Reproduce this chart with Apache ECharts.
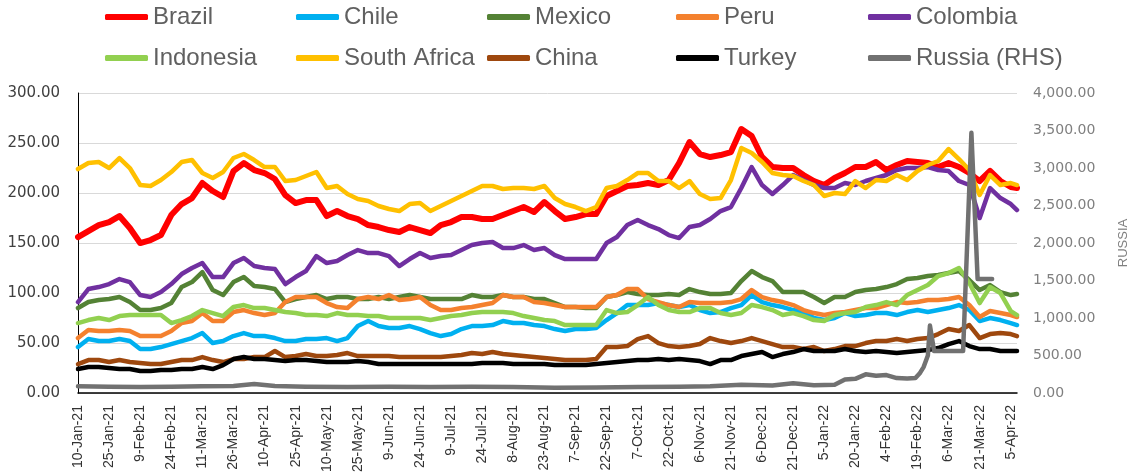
<!DOCTYPE html>
<html>
<head>
<meta charset="utf-8">
<script src="https://cdn.jsdelivr.net/npm/echarts/dist/echarts.min.js"></script>
<style>
  html, body { margin: 0; padding: 0; background: #ffffff; }
  #chart { width: 1138px; height: 475px; }
</style>
</head>
<body>
<div id="chart"></div>
<script>
// Day offsets counted from 10-Jan-21 at which the series are sampled
const days = [0,5,10,15,20,25,30,35,40,45,50,55,60,65,70,75,80,85,90,95,
  100,105,110,115,120,125,130,135,140,145,150,155,160,165,170,175,180,185,190,195,
  200,205,210,215,220,225,230,235,240,245,250,255,260,265,270,275,280,285,290,295,
  300,305,310,315,320,325,330,335,340,345,350,355,360,365,370,375,380,385,390,395,
  400,405,410,415,420,425,430,435,440,445,450,453];

// Date labels shown every 15 days along the bottom axis
const tickLabels = ['10-Jan-21','25-Jan-21','9-Feb-21','24-Feb-21','11-Mar-21','26-Mar-21',
  '10-Apr-21','25-Apr-21','10-May-21','25-May-21','9-Jun-21','24-Jun-21','9-Jul-21',
  '24-Jul-21','8-Aug-21','23-Aug-21','7-Sep-21','22-Sep-21','7-Oct-21','22-Oct-21',
  '6-Nov-21','21-Nov-21','6-Dec-21','21-Dec-21','5-Jan-22','20-Jan-22','4-Feb-22',
  '19-Feb-22','6-Mar-22','21-Mar-22','5-Apr-22'];

// Left-hand scale series
const brazil = [156,162,168,171,177,165,150,153,158,178, 189,195,210,202,196,222,230,223,220,214,
  198,190,193,193,177,182,177,174,168,166, 163,161,166,163,160,168,171,176,176,174,
  174,178,182,186,181,191,182,174,176,179, 179,197,202,207,208,210,208,213,230,251,
  239,236,238,241,264,257,236,226,225,225, 218,212,208,215,220,226,226,231,223,228,
  232,231,230,226,230,226,220,212,222,212, 206,205];
const chile = [46,54,52,52,54,52,44,44,46,49, 52,55,60,50,52,57,60,57,57,55,
  52,52,54,54,55,52,55,67,72,67, 65,65,67,64,60,57,59,64,67,67,
  68,72,70,70,68,67,64,62,64,64, 65,73,80,88,88,88,90,88,86,88,
  83,80,81,85,88,98,91,88,86,83, 81,75,73,75,80,77,78,80,80,78,
  81,83,81,83,85,88,83,72,75,73, 70,68];
const mexico = [85,91,93,94,96,91,83,83,85,90, 106,111,121,103,98,111,116,107,106,104,
  91,94,96,98,94,96,96,94,94,96, 94,96,98,96,94,94,94,94,98,96,
  96,98,96,96,94,94,90,86,86,85, 85,96,98,101,99,98,98,99,98,104,
  101,99,99,100,112,122,116,112,101,101, 101,96,90,96,96,101,103,104,106,109,
  114,115,117,118,120,122,113,103,108,101, 98,99];
const peru = [55,63,62,62,63,62,57,57,57,62, 70,72,80,72,72,81,83,80,78,80,
  91,96,96,96,90,86,85,94,96,94, 98,93,94,96,88,83,83,85,86,88,
  90,98,96,96,91,90,88,86,86,86, 86,96,98,104,104,94,91,88,86,91,
  90,90,90,91,94,103,96,93,91,88, 83,80,78,80,81,83,85,85,88,91,
  90,91,93,93,94,96,88,76,82,80, 78,76];
const colombia = [91,104,106,109,114,111,98,96,101,109, 119,125,130,116,116,130,135,127,125,124,
  109,116,122,137,130,132,138,143,140,140, 137,127,134,140,135,137,138,143,148,150,
  151,145,145,148,143,145,138,134,134,134, 134,150,156,168,173,168,164,158,155,166,
  168,174,182,186,205,226,208,199,208,218, 213,208,205,205,210,208,212,215,218,223,
  225,225,226,223,222,212,208,175,205,195, 189,183];
const indonesia = [70,73,75,73,77,78,78,78,78,70, 73,77,83,80,77,86,88,85,85,83,
  81,80,78,78,77,80,78,78,77,77, 75,75,75,75,73,75,77,78,80,81,
  81,81,80,77,75,73,72,68,68,68, 68,83,80,81,88,96,88,83,81,81,
  85,85,80,78,80,88,86,83,78,80, 77,73,72,78,80,81,86,88,91,88,
  98,103,108,117,120,125,110,90,106,100, 82,78];
const southAfrica = [224,230,231,225,235,225,208,207,213,221, 231,233,220,215,221,235,239,233,226,226,
  212,213,217,221,205,207,199,194,192,187, 184,182,189,190,182,187,192,197,202,207,
  207,204,205,205,204,207,195,189,186,182, 186,205,207,213,220,220,212,212,205,212,
  199,194,195,213,245,240,231,220,218,217, 212,208,197,200,199,212,205,213,212,218,
  213,222,228,232,244,234,223,198,218,208, 210,208];
const china = [29,33,33,31,33,31,30,29,29,31, 33,33,36,33,31,34,34,36,36,42,
  36,37,39,37,37,38,40,37,37,37, 37,36,36,36,36,36,37,38,40,39,
  41,39,38,37,36,35,34,33,33,33, 34,46,46,47,54,57,50,47,46,47,
  49,55,52,50,52,55,52,49,46,46, 44,46,42,44,47,47,50,52,52,54,
  52,54,55,59,64,62,68,55,59,60, 59,57];
const turkey = [24,26,26,25,24,24,22,22,23,23, 24,24,26,24,28,34,36,34,34,33,
  32,33,33,32,31,31,31,32,31,29, 29,29,29,29,29,29,29,29,29,30,
  30,30,29,29,29,29,28,28,28,28, 29,30,31,32,33,33,34,33,34,33,
  32,29,33,33,37,39,41,36,39,41, 44,42,42,42,44,42,41,42,41,40,
  41,42,43,45,49,52,47,44,44,42, 42,42];

// Right-hand scale: Russia, sampled more finely around its jumps
const russiaDays = [0,15,30,45,60,75,85,95,110,130,150,170,190,210,230,250,270,290,305,320,
  335,345,355,365,370,375,380,385,390,395,400,404,406,408,410,411,413,420,427,431,434,441];
const russia = [90,85,80,85,90,95,120,95,85,80,85,80,85,80,70,75,80,85,90,110,
  100,130,105,110,180,190,250,230,240,200,195,200,260,350,500,900,560,560,560,3470,1520,1520];

const seriesDefs = [
  { name: 'Brazil',       values: brazil,      color: '#FF0000', width: 6 },
  { name: 'Chile',        values: chile,       color: '#00B0F0', width: 4.5 },
  { name: 'Mexico',       values: mexico,      color: '#548235', width: 4.5 },
  { name: 'Peru',         values: peru,        color: '#F4812E', width: 4.5 },
  { name: 'Colombia',     values: colombia,    color: '#7030A0', width: 4.5 },
  { name: 'Indonesia',    values: indonesia,   color: '#92D050', width: 4.5 },
  { name: 'South Africa', values: southAfrica, color: '#FFC000', width: 4.5 },
  { name: 'China',        values: china,       color: '#9E480E', width: 4.5 },
  { name: 'Turkey',       values: turkey,      color: '#000000', width: 4.5 }
];

const series = seriesDefs.map(s => ({
  name: s.name,
  type: 'line',
  showSymbol: false,
  color: s.color,
  lineStyle: { color: s.color, width: s.width, join: 'round', cap: 'round' },
  data: days.map((d, i) => [d, s.values[i]])
}));
series.push({
  name: 'Russia (RHS)',
  type: 'line',
  yAxisIndex: 1,
  showSymbol: false,
  color: '#717171',
  lineStyle: { color: '#717171', width: 4.5, join: 'round', cap: 'round' },
  data: russiaDays.map((d, i) => [d, russia[i]])
});

// Legend laid out in five columns and two rows
const legendCols = [105, 296, 487, 676, 868];
const legendRows = [5, 46];
const legendOrder = ['Brazil','Chile','Mexico','Peru','Colombia',
  'Indonesia','South Africa','China','Turkey','Russia (RHS)'];
const legends = legendOrder.map((name, i) => ({
  data: [name],
  left: legendCols[i % 5],
  top: legendRows[Math.floor(i / 5)],
  padding: 0,
  icon: 'roundRect',
  itemWidth: 43,
  itemHeight: 6,
  textStyle: { fontFamily: 'Liberation Sans', fontSize: 24, lineHeight: 24, color: '#606060' }
}));

const chart = echarts.init(document.getElementById('chart'), null, { renderer: 'canvas' });
chart.setOption({
  animation: false,
  backgroundColor: '#ffffff',
  legend: legends,
  grid: { left: 78, right: 106, top: 93, bottom: 76 },
  xAxis: {
    type: 'value',
    min: 0,
    max: 453,
    interval: 15,
    axisLine: { show: true, lineStyle: { color: '#000000', width: 1.5 } },
    axisTick: { show: false },
    splitLine: { show: false },
    axisLabel: {
      rotate: 90,
      margin: 12,
      fontFamily: 'Liberation Sans',
      fontSize: 14,
      color: '#333333',
      showMaxLabel: false,
      formatter: v => (v % 15 === 0 ? (tickLabels[v / 15] || '') : '')
    }
  },
  yAxis: [
    {
      type: 'value',
      min: 0,
      max: 300,
      interval: 50,
      axisLine: { show: true, lineStyle: { color: '#000000', width: 1 } },
      axisTick: { show: false },
      splitLine: { show: true, lineStyle: { color: '#D9D9D9', width: 1 } },
      axisLabel: {
        margin: 18,
        fontFamily: 'DejaVu Sans',
        fontSize: 15,
        color: '#404040',
        formatter: v => v.toFixed(2)
      }
    },
    {
      type: 'value',
      min: 0,
      max: 4000,
      interval: 500,
      position: 'right',
      name: 'RUSSIA',
      nameLocation: 'middle',
      nameRotate: 90,
      nameGap: 100,
      nameTextStyle: { fontFamily: 'Liberation Sans', fontSize: 13, color: '#808080' },
      axisLine: { show: false },
      axisTick: { show: false },
      splitLine: { show: false },
      axisLabel: {
        margin: 16,
        fontFamily: 'DejaVu Sans',
        fontSize: 14,
        color: '#7F7F7F',
        formatter: v => v.toLocaleString('en-US', { minimumFractionDigits: 2, maximumFractionDigits: 2 })
      }
    }
  ],
  series: series
});
</script>
</body>
</html>
